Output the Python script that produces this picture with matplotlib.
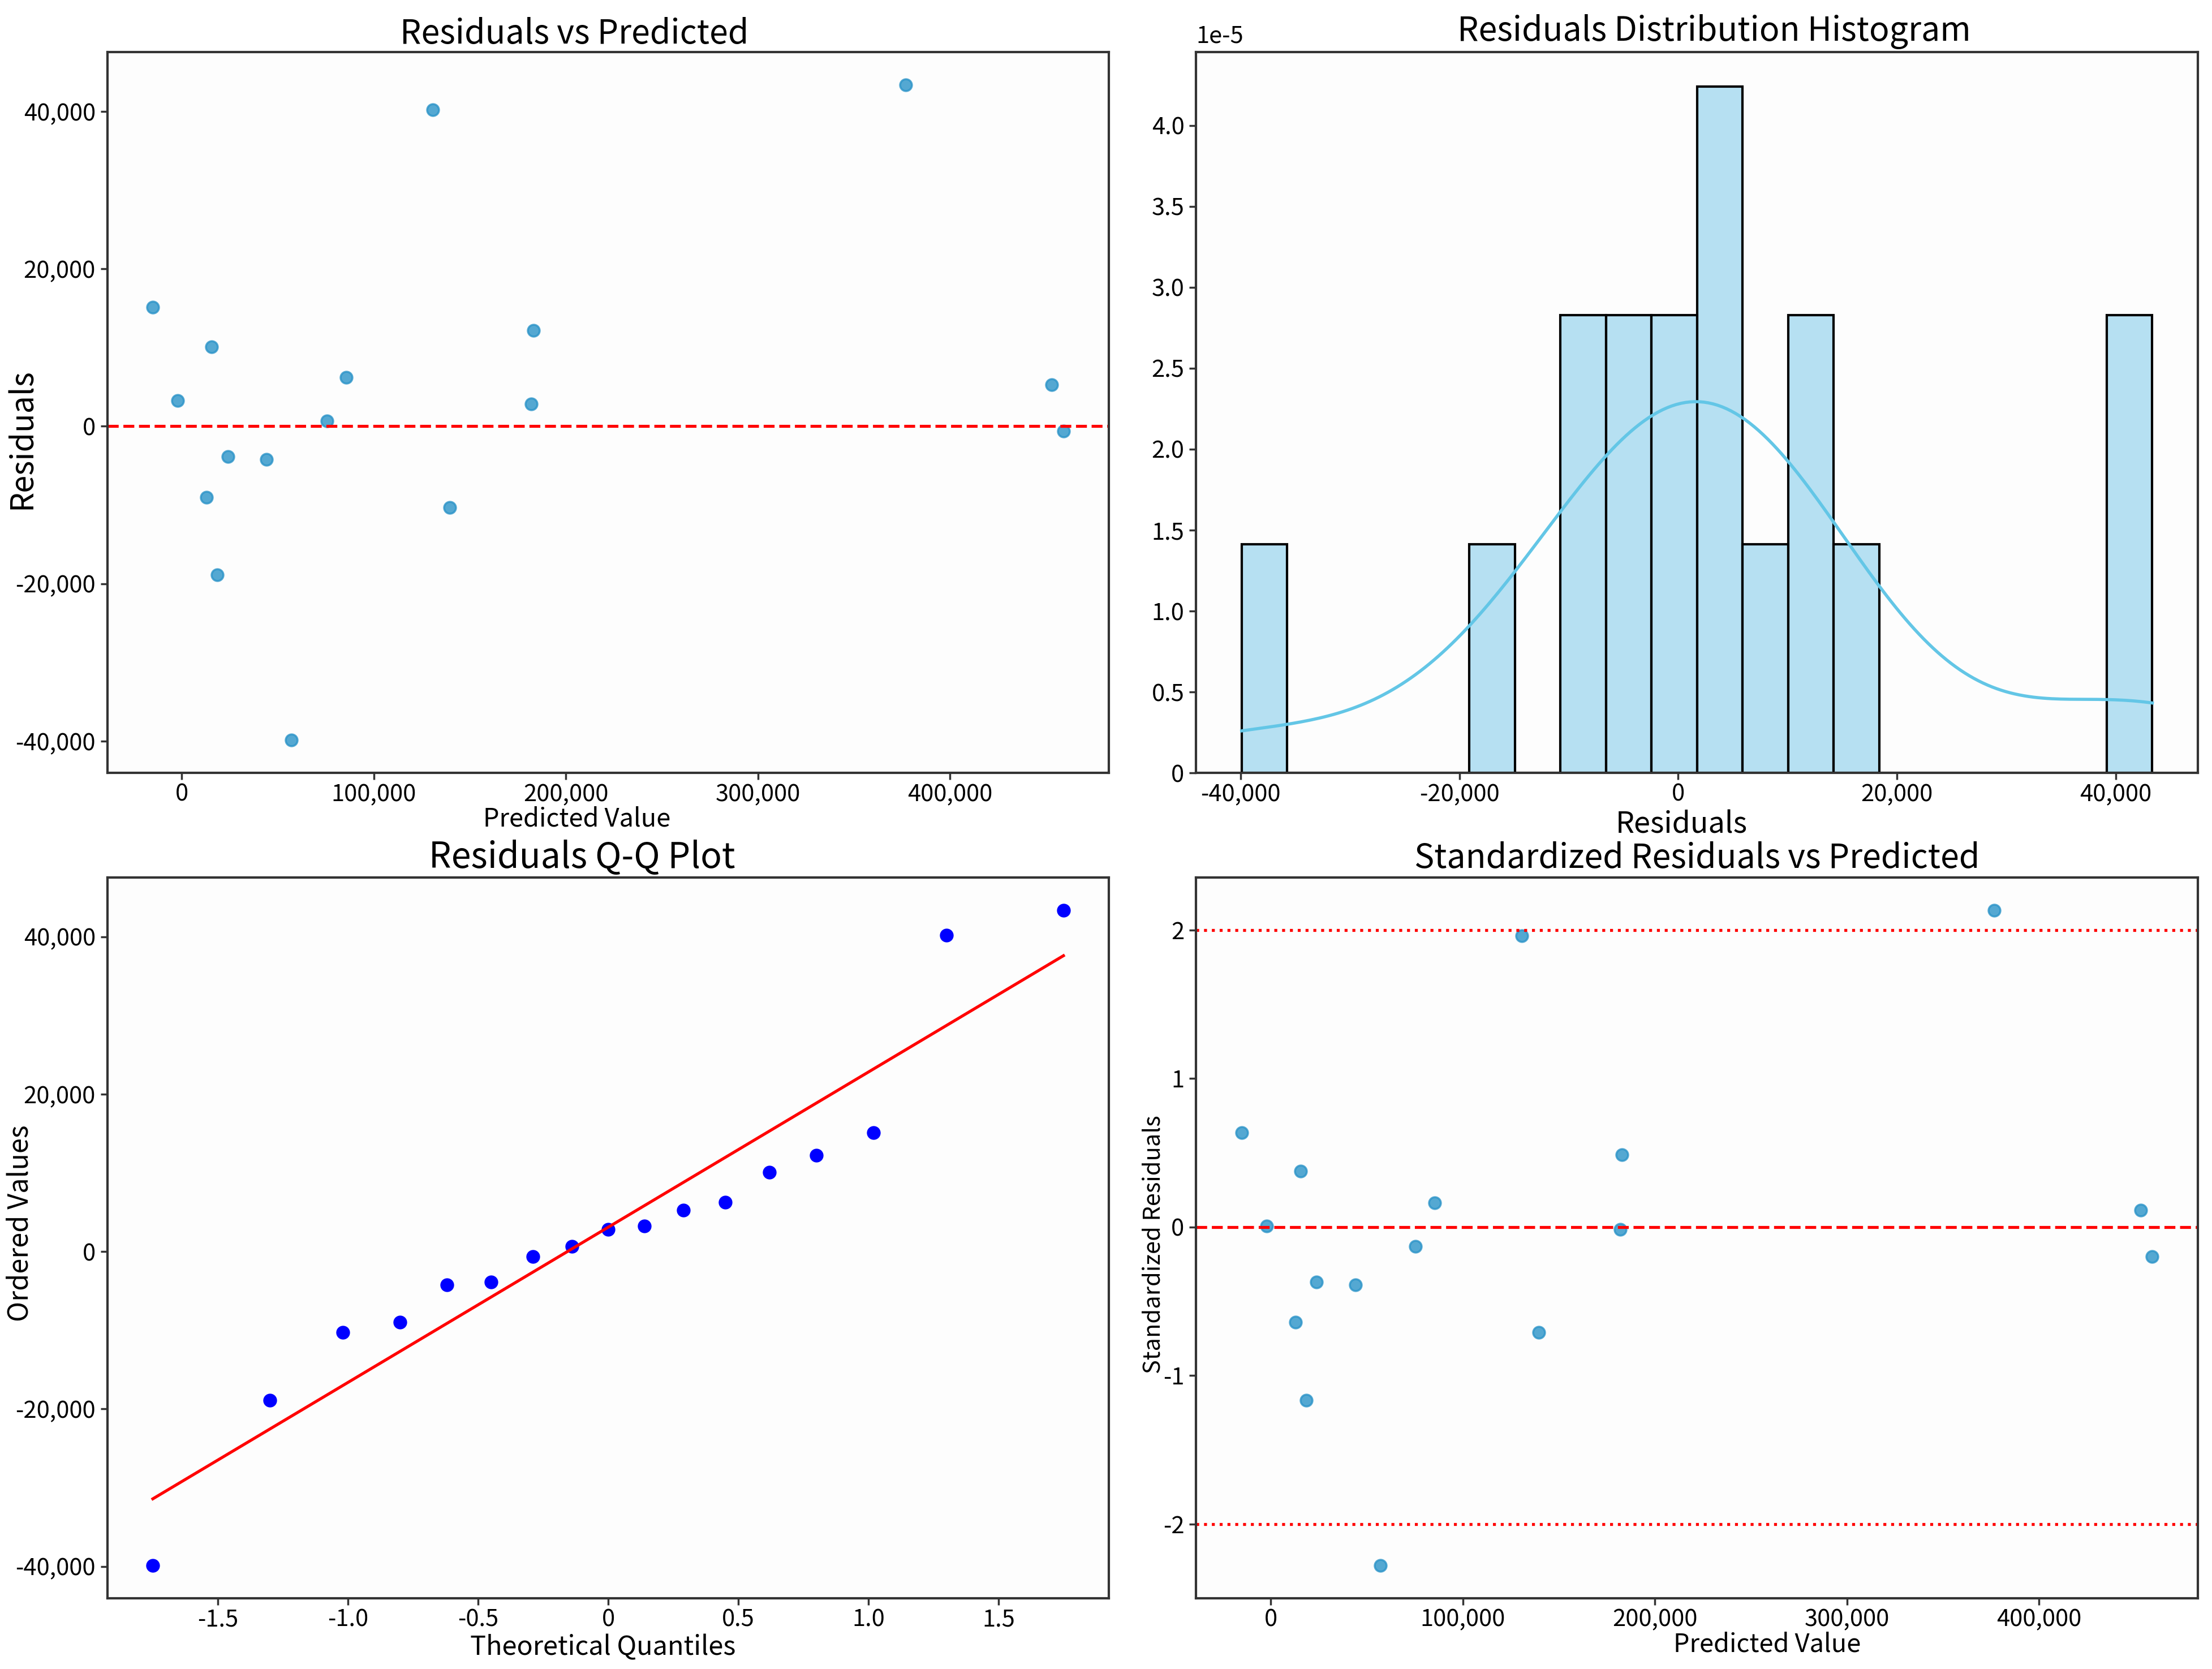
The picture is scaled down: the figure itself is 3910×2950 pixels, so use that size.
import numpy as np
import matplotlib
matplotlib.use("Agg")
import matplotlib.pyplot as plt
from matplotlib.ticker import FuncFormatter
import seaborn as sns

plt.rcParams['font.family'] = ['Noto Sans CJK SC', 'DejaVu Sans']
plt.rcParams['axes.unicode_minus'] = False

# ---- data ----
predicted = [-15100, 15500, -2200, 12900, 18400, 23900, 44200, 57100, 75500,
             85500, 130800, 139600, 182000, 183000, 376800, 453000, 459000]
residuals = [15100, 10100, 3260, -9000, -18900, -3870, -4200, -39900, 680,
             6240, 40200, -10300, 2850, 12200, 43350, 5290, -610]
standardized = [0.636, 0.377, 0.007, -0.639, -1.167, -0.370, -0.388, -2.280, -0.129,
                0.165, 1.960, -0.711, -0.014, 0.488, 2.133, 0.115, -0.197]
theoretical_q = [-1.75, -1.30, -1.02, -0.80, -0.62, -0.45, -0.29, -0.14, 0.0,
                 0.14, 0.29, 0.45, 0.62, 0.80, 1.02, 1.30, 1.75]

res = np.array(residuals, dtype=float)
pred = np.array(predicted, dtype=float)

DPI = 250
fig, axes = plt.subplots(2, 2, figsize=(3910 / DPI, 2950 / DPI), dpi=DPI)
fig.patch.set_facecolor('white')
plt.subplots_adjust(left=0.0485, right=0.9936, bottom=0.0423, top=0.9687,
                    wspace=0.087, hspace=0.145)

comma = FuncFormatter(lambda v, p: f'{v:,.0f}')

def plain(v, p):
    if abs(v) < 1e-12:
        return '0'
    return f'{v:.1f}'

TICK = 12
point_color = '#2a93c8'

for ax in axes.flat:
    ax.set_facecolor('#fdfdfd')
    for s in ax.spines.values():
        s.set_color('#333333')
        s.set_linewidth(1.2)
    ax.tick_params(labelsize=TICK, length=3.5, width=1, color='#333333', pad=2.5)
    ax.tick_params(axis='x', pad=1.5)

# 1. Residuals vs Predicted
ax = axes[0, 0]
ax.scatter(pred, res, s=36, color=point_color, alpha=0.8, linewidths=1)
ax.axhline(0, color='red', linestyle='--', linewidth=1.5)
ax.set_title('Residuals vs Predicted', fontsize=17, x=0.466, pad=4.5)
ax.set_xlabel('Predicted Value', fontsize=13)
ax.set_ylabel('Residuals', fontsize=16)
ax.xaxis.set_label_coords(0.469, -0.064)
ax.yaxis.set_label_coords(-0.069, 0.464)
ax.xaxis.set_major_formatter(comma)
ax.yaxis.set_major_formatter(comma)

# 2. Histogram
ax = axes[0, 1]
sns.histplot(res, bins=20, stat='density', kde=True, color='skyblue',
             edgecolor='black', alpha=0.6, linewidth=1.2, ax=ax)
for line in ax.lines:
    line.set_color('#63c6e6')
    line.set_linewidth(1.6)
ax.set_title('Residuals Distribution Histogram', fontsize=17, x=0.517, pad=6)
ax.set_xlabel('Residuals', fontsize=15)
ax.set_ylabel('')
ax.xaxis.set_label_coords(0.4845, -0.072)
ax.xaxis.set_major_formatter(comma)
ax.yaxis.set_major_formatter(FuncFormatter(lambda v, p: '0' if abs(v) < 1e-12 else f'{v * 1e5:.1f}'))
ax.text(0.0, 1.006, '1e-5', transform=ax.transAxes, fontsize=TICK,
        ha='left', va='bottom')

# 3. Q-Q plot
ax = axes[1, 0]
osm = np.array(theoretical_q)
osr = np.sort(res)
slope, intercept = np.polyfit(osm, osr, 1)
ax.plot(osm, osr, 'bo', markersize=6)
ax.plot(osm, slope * osm + intercept, 'r-', linewidth=1.5)
ax.set_title('Residuals Q-Q Plot', fontsize=18, x=0.474, pad=5)
ax.set_xlabel('Theoretical Quantiles', fontsize=13.5)
ax.set_ylabel('Ordered Values', fontsize=14)
ax.xaxis.set_label_coords(0.495, -0.068)
ax.yaxis.set_label_coords(-0.073, 0.5205)
ax.yaxis.set_major_formatter(comma)
ax.xaxis.set_major_formatter(FuncFormatter(plain))

# 4. Standardized residuals
ax = axes[1, 1]
ax.scatter(pred, standardized, s=36, color=point_color, alpha=0.8, linewidths=1)
ax.axhline(0, color='red', linestyle='--', linewidth=1.5)
ax.axhline(2, color='red', linestyle=':', linewidth=1.5)
ax.axhline(-2, color='red', linestyle=':', linewidth=1.5)
ax.set_title('Standardized Residuals vs Predicted', fontsize=17, pad=5)
ax.set_xlabel('Predicted Value', fontsize=13)
ax.set_ylabel('Standardized Residuals', fontsize=12)
ax.xaxis.set_label_coords(0.570, -0.064)
ax.yaxis.set_label_coords(-0.031, 0.491)
ax.xaxis.set_major_formatter(comma)
ax.yaxis.set_major_formatter(FuncFormatter(lambda v, p: f'{v:.0f}'))

for ax in axes.flat:
    ax.xaxis.label.set_va('center')

fig.savefig('out.png', dpi=DPI)
